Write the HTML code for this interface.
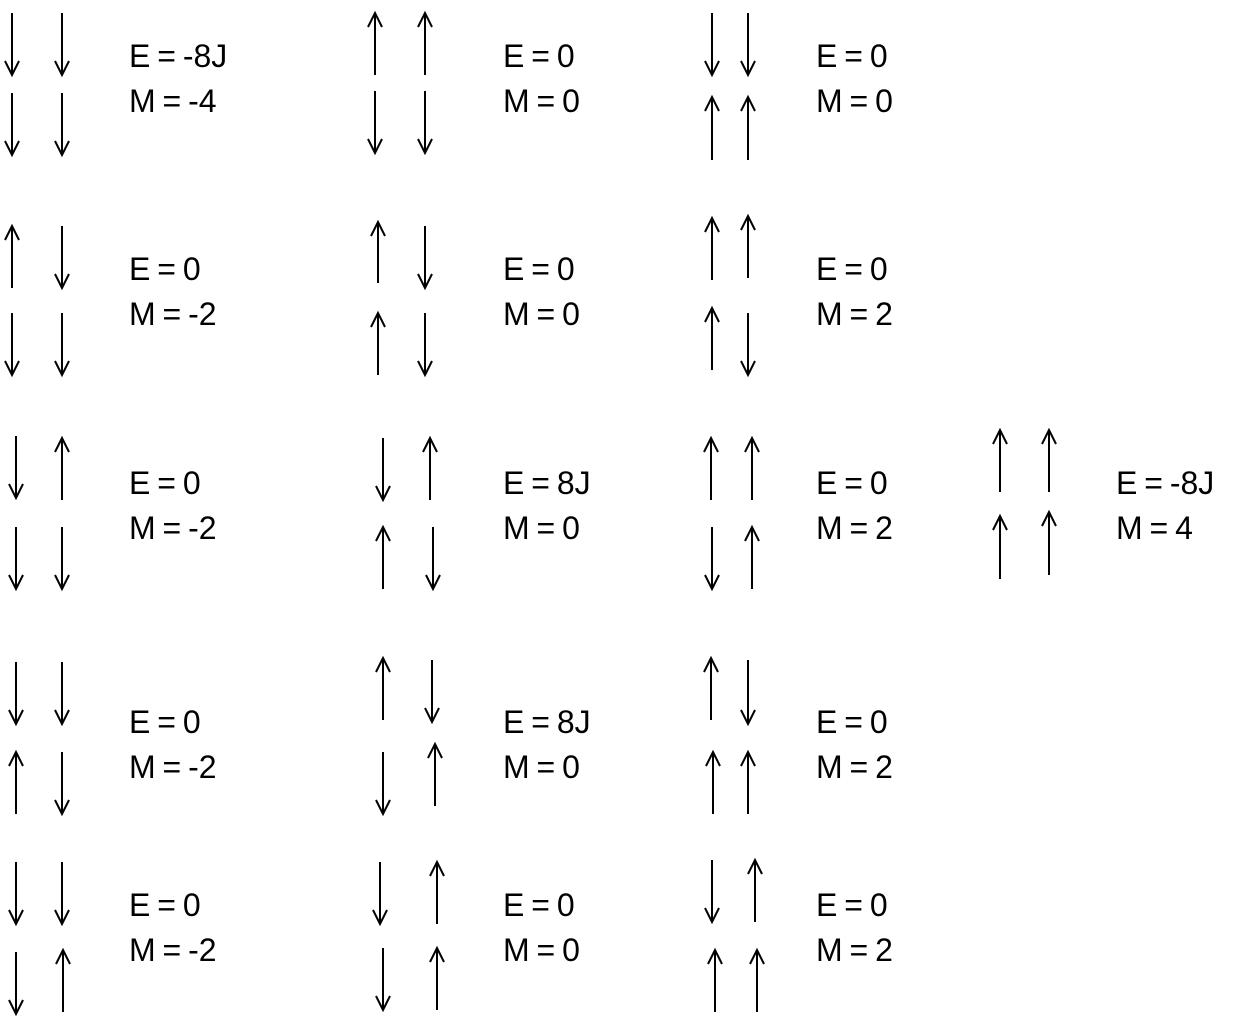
<!DOCTYPE html>
<html><head><meta charset="utf-8"><style>
html,body{margin:0;padding:0;background:#fff;}
svg{display:block;}
text{font-family:"Liberation Sans",sans-serif;font-size:32px;word-spacing:-2px;fill:#000;}
</style></head><body>
<svg id="s" width="1235" height="1031" viewBox="0 0 1235 1031" xmlns="http://www.w3.org/2000/svg"></svg>
<script>
// each arrow: x, y-top, y-bottom, direction (1 = up, -1 = down)
const arrows = [
 [12,13,75,-1],[62,13,75,-1],[12,93,155,-1],[62,93,155,-1],
 [375,13,75,1],[425,13,75,1],[375,91,153,-1],[425,91,153,-1],
 [712,13,75,-1],[748,13,75,-1],[712,97,160,1],[748,97,160,1],
 [12,226,288,1],[62,226,288,-1],[12,313,375,-1],[62,313,375,-1],
 [378,222,283,1],[425,226,288,-1],[378,313,375,1],[425,313,375,-1],
 [712,218,280,1],[748,216,278,1],[712,308,370,1],[748,313,375,-1],
 [16,436,498,-1],[62,438,500,1],[16,527,589,-1],[62,527,589,-1],
 [383,438,500,-1],[430,438,500,1],[383,527,589,1],[433,527,589,-1],
 [711,438,500,1],[752,438,500,1],[712,527,589,-1],[752,527,589,1],
 [1000,430,492,1],[1049,430,492,1],[1000,516,579,1],[1049,512,575,1],
 [16,662,724,-1],[62,662,724,-1],[16,752,814,1],[62,752,814,-1],
 [383,658,720,1],[432,660,722,-1],[383,752,814,-1],[435,744,806,1],
 [711,658,720,1],[748,660,724,-1],[713,752,814,1],[748,752,814,1],
 [16,862,924,-1],[62,862,924,-1],[16,952,1014,-1],[63,950,1012,1],
 [380,862,924,-1],[437,862,924,1],[383,948,1010,-1],[437,948,1010,1],
 [712,860,922,-1],[755,860,922,1],[715,950,1012,1],[757,950,1012,1]
];
// labels: x, E-baseline, E text, M text
const labels = [
 [129,67,"E = -8J","M = -4"],[503,67,"E = 0","M = 0"],[816,67,"E = 0","M = 0"],
 [129,280,"E = 0","M = -2"],[503,280,"E = 0","M = 0"],[816,280,"E = 0","M = 2"],
 [129,494,"E = 0","M = -2"],[503,494,"E = 8J","M = 0"],[816,494,"E = 0","M = 2"],[1116,494,"E = -8J","M = 4"],
 [129,733,"E = 0","M = -2"],[503,733,"E = 8J","M = 0"],[816,733,"E = 0","M = 2"],
 [129,916,"E = 0","M = -2"],[503,916,"E = 0","M = 0"],[816,916,"E = 0","M = 2"]
];
const NS="http://www.w3.org/2000/svg", s=document.getElementById('s');
arrows.forEach(a=>{
  const [x,y1,y2,d]=a;
  const g=document.createElementNS(NS,'path');
  const tip=d>0?y1:y2, back=d>0?tip+14:tip-14;
  g.setAttribute('d',`M${x} ${y1}L${x} ${y2}M${x-7} ${back}L${x} ${tip}L${x+7} ${back}`);
  g.setAttribute('stroke','#000');g.setAttribute('stroke-width','2');g.setAttribute('fill','none');
  
  
  s.appendChild(g);
});
labels.forEach(l=>{
  const [x,y,e,m]=l;
  const t1=document.createElementNS(NS,'text');
  t1.setAttribute('x',x);t1.setAttribute('y',y);t1.textContent=e;
  
  
  s.appendChild(t1);
  const t2=document.createElementNS(NS,'text');
  t2.setAttribute('x',x);t2.setAttribute('y',y+45);t2.textContent=m;
  
  
  s.appendChild(t2);
});
</script>
</body></html>
